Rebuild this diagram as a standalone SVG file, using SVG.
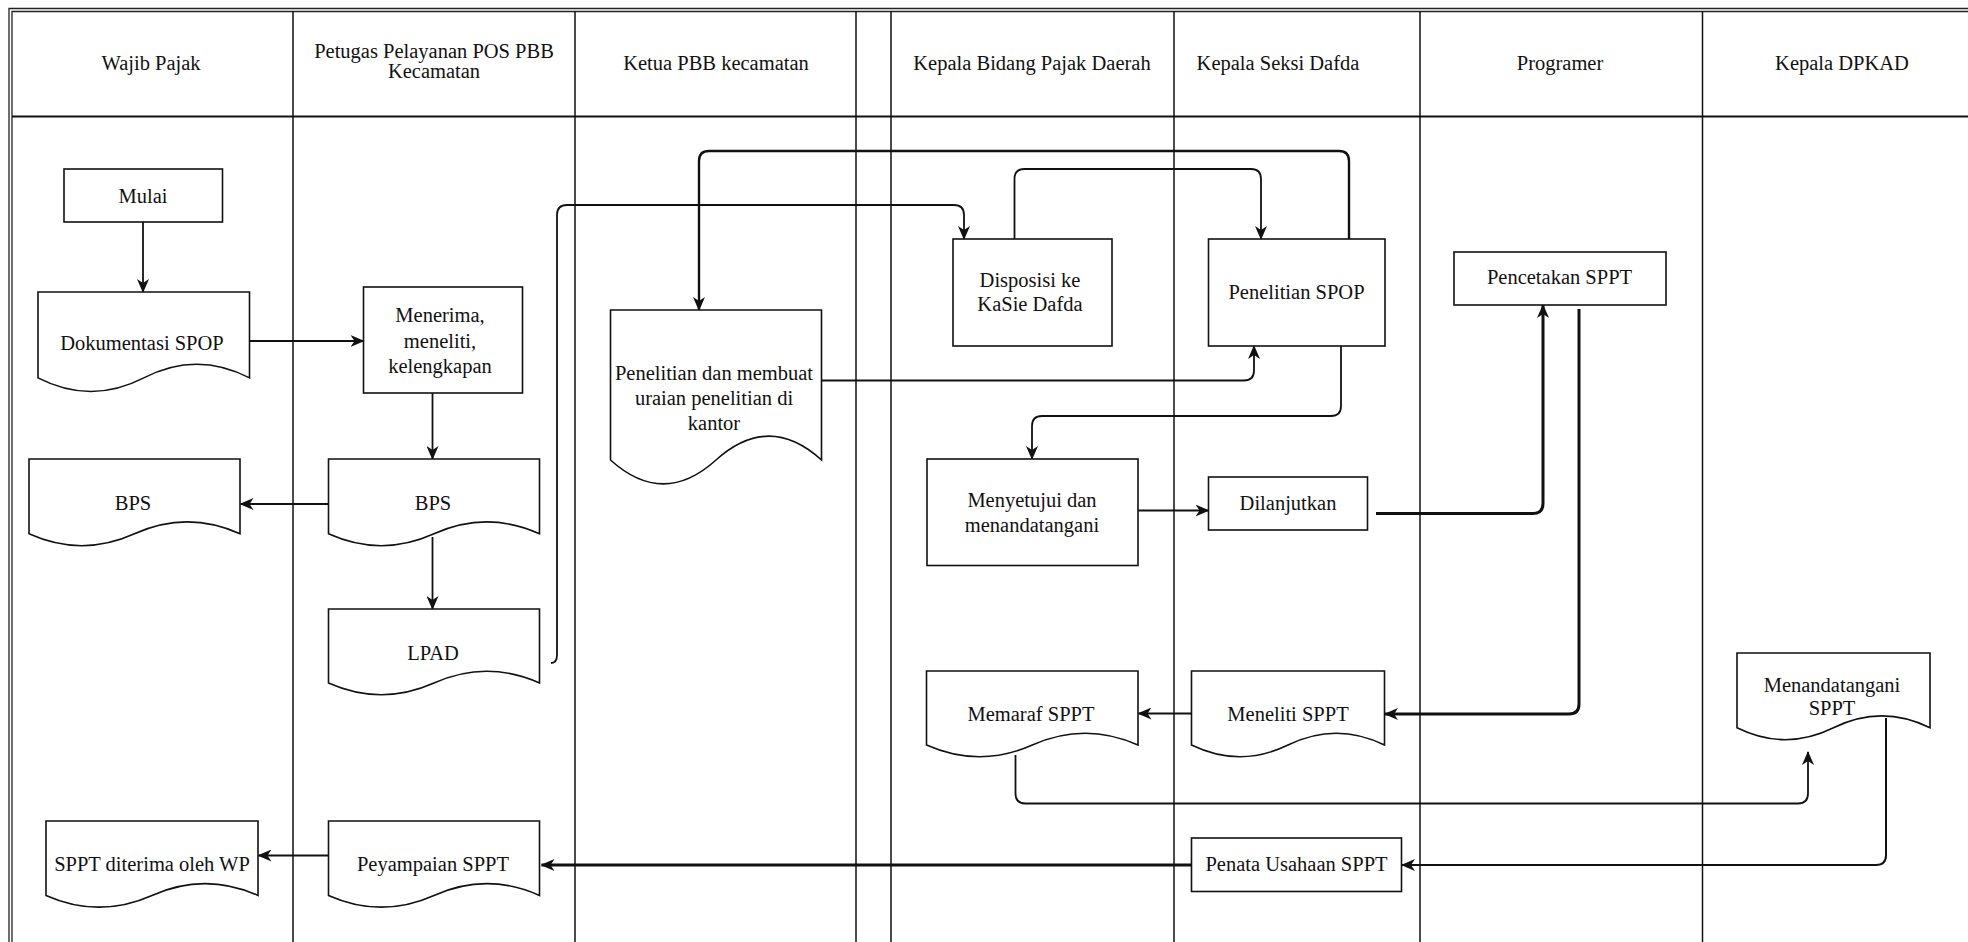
<svg xmlns="http://www.w3.org/2000/svg" width="1968" height="942" viewBox="0 0 1968 942">
<style>
text{font-family:'Liberation Serif','Times New Roman',serif;font-size:20.5px;fill:#111;text-anchor:middle;dominant-baseline:central}
.frame{fill:none;stroke:#222;stroke-width:1.3}
.col{fill:none;stroke:#111;stroke-width:1.5}
.box{fill:#fff;stroke:#111;stroke-width:1.6}
.c{fill:none;stroke:#111;stroke-width:1.8;marker-end:url(#arr)}
.ct{fill:none;stroke:#111;stroke-width:3;marker-end:url(#arr)}
</style>
<defs>
<marker id="arr" markerUnits="userSpaceOnUse" markerWidth="14" markerHeight="12" viewBox="0 0 14 12" refX="13" refY="6" orient="auto">
<path d="M0,0 L14,6 L0,12 L4,6 Z" fill="#111"/>
</marker>
</defs>
<rect width="1968" height="942" fill="#fff"/>
<g id="frame">
<path class="frame" d="M9,942 V8.5 H1968 M12,942 V11.5 H1968"/>
<path d="M12,116.5 H1968" stroke="#111" stroke-width="2.2"/>
<path class="col" d="M293,11 V942 M575,11 V942 M856,11 V942 M891,11 V942 M1174,11 V942 M1420,11 V942 M1702.5,11 V942"/>
</g>
<g id="headers">
<text x="151" y="63">Wajib Pajak</text>
<text x="434" y="51">Petugas Pelayanan POS PBB</text>
<text x="434" y="71">Kecamatan</text>
<text x="716" y="63">Ketua PBB kecamatan</text>
<text x="1032" y="63">Kepala Bidang Pajak Daerah</text>
<text x="1278" y="63">Kepala Seksi Dafda</text>
<text x="1560" y="63">Programer</text>
<text x="1842" y="63">Kepala DPKAD</text>
</g>
<g id="connectors">
<path class="c" d="M143,222 V292"/>
<path class="c" d="M239,341 H363.5"/>
<path class="c" d="M432.5,393 V459"/>
<path class="c" d="M328.5,504 H240.5"/>
<path class="c" d="M432.5,537 V609"/>
<path class="c" d="M551,663 Q557,663 557,655 V215 Q557,205 567,205 H954 Q964,205 964,215 V239"/>
<path class="c" style="stroke-width:2.4" d="M1349,239 V161 Q1349,151 1339,151 H709 Q699,151 699,161 V310"/>
<path class="c" d="M1014.5,239 V179 Q1014.5,169 1024.5,169 H1251 Q1261,169 1261,179 V239"/>
<path class="c" d="M821.5,380.5 H1244 Q1254,380.5 1254,370.5 V346"/>
<path class="c" d="M1341,346 V406 Q1341,416 1331,416 H1042 Q1032,416 1032,426 V459"/>
<path class="c" d="M1138,510.5 H1208.5"/>
<path class="ct" d="M1376,513.5 H1533 Q1543,513.5 1543,503.5 V305"/>
<path class="ct" d="M1579,309 V704 Q1579,714 1569,714 H1385"/>
<path class="c" d="M1191.5,713.5 H1138.5"/>
<path class="c" d="M1015.5,755 V793.5 Q1015.5,803.5 1025.5,803.5 H1798 Q1808,803.5 1808,793.5 V752"/>
<path class="c" style="stroke-width:2" d="M1886,718 V855 Q1886,865 1876,865 H1402"/>
<path class="ct" d="M1191.5,865 H541.5"/>
<path class="c" d="M328.5,855.5 H258.5"/>
</g>
<g id="n-mulai">
<rect class="box" x="64" y="169" width="158.5" height="53"/>
<text x="143" y="196">Mulai</text>
</g>
<g id="n-dokspop">
<path class="box" d="M38,292 H249.5 V377.9 Q196.6,350.6 143.8,377.9 Q90.9,405.1 38,377.9 Z"/>
<text x="142" y="343">Dokumentasi SPOP</text>
</g>
<g id="n-menerima">
<rect class="box" x="363.5" y="287" width="159" height="106"/>
<text x="440" y="315">Menerima,</text>
<text x="440" y="340.5">meneliti,</text>
<text x="440" y="366">kelengkapan</text>
</g>
<g id="n-bps1">
<path class="box" d="M29,459 H240 V533.8 Q187.3,510 134.5,533.8 Q81.8,557.6 29,533.8 Z"/>
<text x="133" y="503">BPS</text>
</g>
<g id="n-bps2">
<path class="box" d="M328.5,459 H539.5 V533.8 Q486.8,510 434,533.8 Q381.3,557.6 328.5,533.8 Z"/>
<text x="433" y="503">BPS</text>
</g>
<g id="n-lpad">
<path class="box" d="M328.5,609 H539.5 V683 Q486.8,659.5 434,683 Q381.3,706.4 328.5,683 Z"/>
<text x="433" y="653">LPAD</text>
</g>
<g id="n-diterima">
<path class="box" d="M46,821 H258 V895.4 Q205,871.8 152,895.4 Q99,918.9 46,895.4 Z"/>
<text x="152" y="864">SPPT diterima oleh WP</text>
</g>
<g id="n-peyampaian">
<path class="box" d="M328.5,821 H539.5 V895.4 Q486.8,871.8 434,895.4 Q381.3,918.9 328.5,895.4 Z"/>
<text x="433" y="864">Peyampaian SPPT</text>
</g>
<g id="n-penelitian-kantor">
<path class="box" d="M610.5,310 H821.5 V460 Q768.8,412.4 716,460 Q663.3,507.7 610.5,460 Z"/>
<text x="714" y="373">Penelitian dan membuat</text>
<text x="714" y="398">uraian penelitian di</text>
<text x="714" y="423">kantor</text>
</g>
<g id="n-disposisi">
<rect class="box" x="953" y="239" width="159" height="107"/>
<text x="1030" y="280">Disposisi ke</text>
<text x="1030" y="304">KaSie Dafda</text>
</g>
<g id="n-penelitian-spop">
<rect class="box" x="1208.5" y="239" width="176.5" height="107"/>
<text x="1296.5" y="292">Penelitian SPOP</text>
</g>
<g id="n-menyetujui">
<rect class="box" x="927" y="459" width="211" height="106.5"/>
<text x="1032" y="500">Menyetujui dan</text>
<text x="1032" y="525">menandatangani</text>
</g>
<g id="n-dilanjutkan">
<rect class="box" x="1208.5" y="477" width="159" height="53"/>
<text x="1288" y="503">Dilanjutkan</text>
</g>
<g id="n-pencetakan">
<rect class="box" x="1454" y="252" width="212" height="53"/>
<text x="1559.5" y="277">Pencetakan SPPT</text>
</g>
<g id="n-memaraf">
<path class="box" d="M926.5,671 H1138 V745 Q1085.1,721.5 1032.3,745 Q979.4,768.4 926.5,745 Z"/>
<text x="1031" y="714">Memaraf SPPT</text>
</g>
<g id="n-meneliti">
<path class="box" d="M1191.5,671 H1384.5 V745 Q1336.3,721.5 1288,745 Q1239.8,768.4 1191.5,745 Z"/>
<text x="1288" y="714">Meneliti SPPT</text>
</g>
<g id="n-menandatangani">
<path class="box" d="M1737,653 H1930 V727.8 Q1881.8,704 1833.5,727.8 Q1785.3,751.6 1737,727.8 Z"/>
<text x="1832" y="685">Menandatangani</text>
<text x="1832" y="708">SPPT</text>
</g>
<g id="n-penata">
<rect class="box" x="1191.5" y="838" width="210" height="53.5"/>
<text x="1296.5" y="864">Penata Usahaan SPPT</text>
</g>
</svg>
